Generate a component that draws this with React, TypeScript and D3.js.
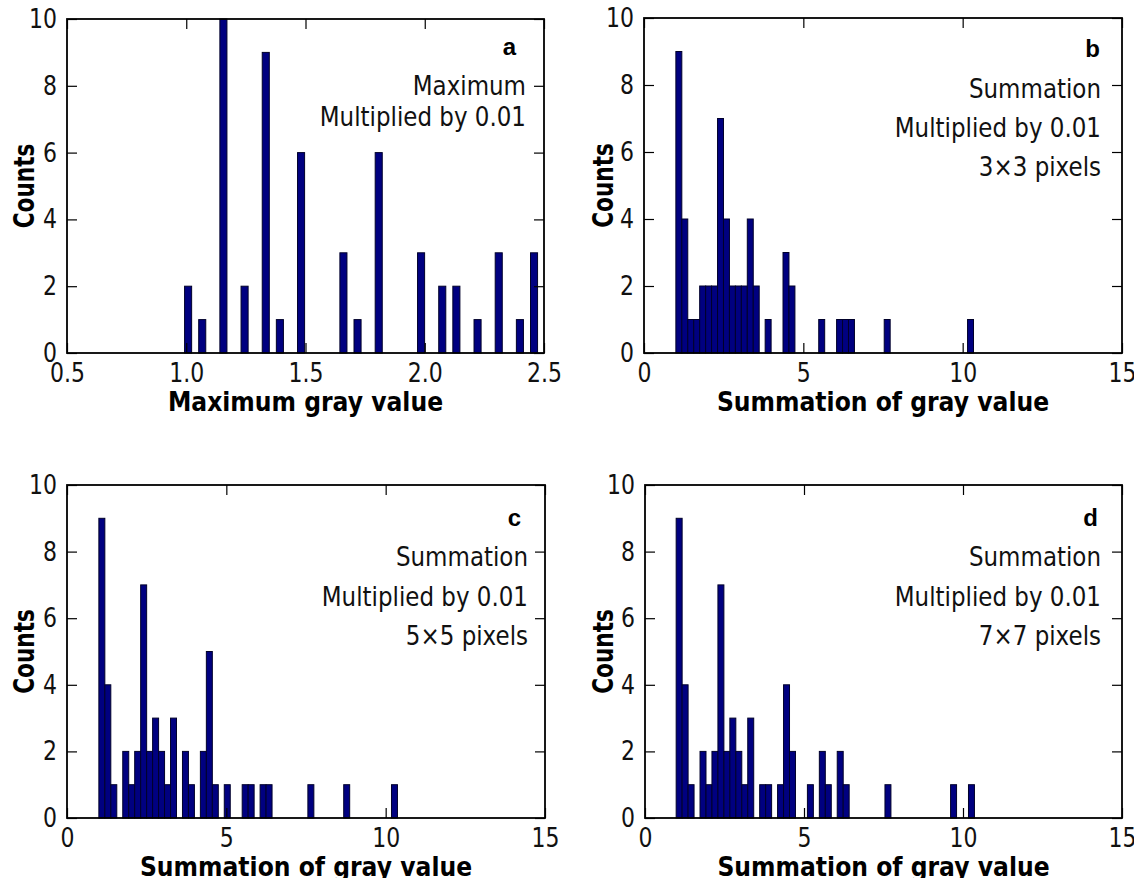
import React, { useEffect, useRef } from 'react';
import * as d3 from 'd3';

// counts per bin, 50 bins per histogram
const countsA = [2, 0, 1, 0, 0, 10, 0, 0, 2, 0, 0, 9, 0, 1, 0, 0, 6, 0, 0, 0, 0, 0, 3, 0, 1, 0, 0, 6, 0, 0, 0, 0, 0, 3, 0, 0, 2, 0, 2, 0, 0, 1, 0, 0, 3, 0, 0, 1, 0, 3];
const countsB = [9, 4, 1, 1, 2, 2, 2, 7, 4, 2, 2, 2, 4, 2, 0, 1, 0, 0, 3, 2, 0, 0, 0, 0, 1, 0, 0, 1, 1, 1, 0, 0, 0, 0, 0, 1, 0, 0, 0, 0, 0, 0, 0, 0, 0, 0, 0, 0, 0, 1];
const countsC = [9, 4, 1, 0, 2, 1, 2, 7, 2, 3, 2, 1, 3, 0, 2, 1, 0, 2, 5, 1, 0, 1, 0, 0, 1, 1, 0, 1, 1, 0, 0, 0, 0, 0, 0, 1, 0, 0, 0, 0, 0, 1, 0, 0, 0, 0, 0, 0, 0, 1];
const countsD = [9, 4, 1, 0, 2, 1, 2, 7, 2, 3, 2, 1, 3, 0, 1, 1, 0, 1, 4, 2, 0, 0, 1, 0, 2, 1, 0, 2, 1, 0, 0, 0, 0, 0, 0, 1, 0, 0, 0, 0, 0, 0, 0, 0, 0, 0, 1, 0, 0, 1];

// data range [min, max] each histogram was binned over
const rangeA = [0.993, 2.473];
const rangeB = [1.0, 10.34];
const rangeC = [1.0, 10.37];
const rangeD = [0.98, 10.36];

const xTicksMax = [0.5, 1.0, 1.5, 2.0, 2.5];
const xTicksSum = [0, 5, 10, 15];
const yTicks = [0, 2, 4, 6, 8, 10];

const notesA = ['Maximum', 'Multiplied by 0.01'];
const notesB = ['Summation', 'Multiplied by 0.01', '3×3 pixels'];
const notesC = ['Summation', 'Multiplied by 0.01', '5×5 pixels'];
const notesD = ['Summation', 'Multiplied by 0.01', '7×7 pixels'];

const panels = [
  { letter: 'a', counts: countsA, range: rangeA, xDomain: [0.5, 2.5], xTicks: xTicksMax, xFormat: '.1f', xLabel: 'Maximum gray value', notes: notesA },
  { letter: 'b', counts: countsB, range: rangeB, xDomain: [0, 15], xTicks: xTicksSum, xFormat: 'd', xLabel: 'Summation of gray value', notes: notesB },
  { letter: 'c', counts: countsC, range: rangeC, xDomain: [0, 15], xTicks: xTicksSum, xFormat: 'd', xLabel: 'Summation of gray value', notes: notesC },
  { letter: 'd', counts: countsD, range: rangeD, xDomain: [0, 15], xTicks: xTicksSum, xFormat: 'd', xLabel: 'Summation of gray value', notes: notesD },
];

// where each panel sits on the page
const layout = [
  { left: 67, right: 544, top: 19, bottom: 353, labelX: 34, letterX: 516, letterY: 55, noteY: [95, 126], noteRight: 526 },
  { left: 644, right: 1122, top: 18, bottom: 353, labelX: 613, letterX: 1100, letterY: 57, noteY: [98, 137, 176], noteRight: 1101 },
  { left: 67, right: 545, top: 485, bottom: 818, labelX: 34, letterX: 521, letterY: 526, noteY: [566, 606, 645], noteRight: 528 },
  { left: 645, right: 1122, top: 485, bottom: 818, labelX: 613, letterX: 1098, letterY: 526, noteY: [566, 606, 645], noteRight: 1101 },
];

const FONT = 'DejaVu Sans, Verdana, sans-serif';

// the glyphs in the figure are taller than they are wide, so squeeze text a bit
function stretch(sel, x, y, sx, sy, rot) {
  sel.attr('x', null).attr('y', null)
    .attr('transform', 'translate(' + x + ',' + y + ')' + (rot ? ' rotate(' + rot + ')' : '') + ' scale(' + sx + ',' + sy + ')');
}

function styleAxis(g) {
  g.select('.domain').remove();
  g.attr('font-family', FONT).attr('font-size', 22);
  g.selectAll('.tick line').attr('stroke', '#000').attr('stroke-width', 1.2);
  g.selectAll('.tick text').attr('fill', '#111').each(function () {
    const t = d3.select(this);
    stretch(t, +t.attr('x') || 0, +t.attr('y') || 0, 1, 1.2, 0);
  });
}

function drawPanel(svg, p, box) {
  const g = svg.append('g');
  const x = d3.scaleLinear().domain(p.xDomain).range([box.left, box.right]);
  const y = d3.scaleLinear().domain([0, 10]).range([box.bottom, box.top]);

  const binWidth = (p.range[1] - p.range[0]) / p.counts.length;
  const bins = p.counts
    .map((c, i) => ({ x0: p.range[0] + i * binWidth, x1: p.range[0] + (i + 1) * binWidth, count: c }))
    .filter((b) => b.count > 0);

  g.selectAll('rect.bar')
    .data(bins)
    .enter()
    .append('rect')
    .attr('class', 'bar')
    .attr('x', (d) => x(d.x0))
    .attr('width', (d) => x(d.x1) - x(d.x0))
    .attr('y', (d) => y(d.count))
    .attr('height', (d) => y(0) - y(d.count))
    .attr('fill', '#000080')
    .attr('stroke', '#00002a')
    .attr('stroke-width', 1);

  const bottom = g.append('g')
    .attr('transform', 'translate(0,' + box.bottom + ')')
    .call(d3.axisBottom(x).tickValues(p.xTicks).tickFormat(d3.format(p.xFormat)).tickSizeInner(-10).tickSizeOuter(0).tickPadding(10));
  styleAxis(bottom);
  const top = g.append('g')
    .attr('transform', 'translate(0,' + box.top + ')')
    .call(d3.axisTop(x).tickValues(p.xTicks).tickFormat(() => '').tickSizeInner(-10).tickSizeOuter(0));
  styleAxis(top);
  const left = g.append('g')
    .attr('transform', 'translate(' + box.left + ',0)')
    .call(d3.axisLeft(y).tickValues(yTicks).tickFormat(d3.format('d')).tickSizeInner(-10).tickSizeOuter(0).tickPadding(10));
  styleAxis(left);
  const right = g.append('g')
    .attr('transform', 'translate(' + box.right + ',0)')
    .call(d3.axisRight(y).tickValues(yTicks).tickFormat(() => '').tickSizeInner(-10).tickSizeOuter(0));
  styleAxis(right);

  g.append('rect')
    .attr('x', box.left)
    .attr('y', box.top)
    .attr('width', box.right - box.left)
    .attr('height', box.bottom - box.top)
    .attr('fill', 'none')
    .attr('stroke', '#000')
    .attr('stroke-width', 1.8);

  const xl = g.append('text')
    .text(p.xLabel)
    .attr('text-anchor', 'middle')
    .attr('font-family', FONT)
    .attr('font-weight', 'bold')
    .attr('font-size', 23.5);
  stretch(xl, (box.left + box.right) / 2, box.bottom + 58, 1, 1.15, 0);

  const yl = g.append('text')
    .text('Counts')
    .attr('text-anchor', 'middle')
    .attr('font-family', FONT)
    .attr('font-weight', 'bold')
    .attr('font-size', 23.5);
  stretch(yl, box.labelX, (box.top + box.bottom) / 2, 0.92, 1.2, -90);

  g.append('text')
    .text(p.letter)
    .attr('x', box.letterX)
    .attr('y', box.letterY)
    .attr('text-anchor', 'end')
    .attr('font-family', 'Liberation Sans, Arial, sans-serif')
    .attr('font-weight', 'bold')
    .attr('font-size', 24);

  g.selectAll('text.note')
    .data(p.notes)
    .enter()
    .append('text')
    .attr('class', 'note')
    .text((d) => d)
    .attr('text-anchor', 'end')
    .attr('font-family', FONT)
    .attr('font-size', 23)
    .attr('fill', '#111')
    .each(function (d, i) {
      stretch(d3.select(this), box.noteRight, box.noteY[i], 1, 1.15, 0);
    });
}

export default function App() {
  const ref = useRef(null);

  useEffect(() => {
    const svg = d3.select(ref.current);
    svg.selectAll('*').remove();
    panels.forEach((p, i) => drawPanel(svg, p, layout[i]));
  }, []);

  return (
    <svg
      ref={ref}
      width={1134}
      height={878}
      style={{ position: 'absolute', left: 0, top: 0, background: '#fff' }}
    />
  );
}
